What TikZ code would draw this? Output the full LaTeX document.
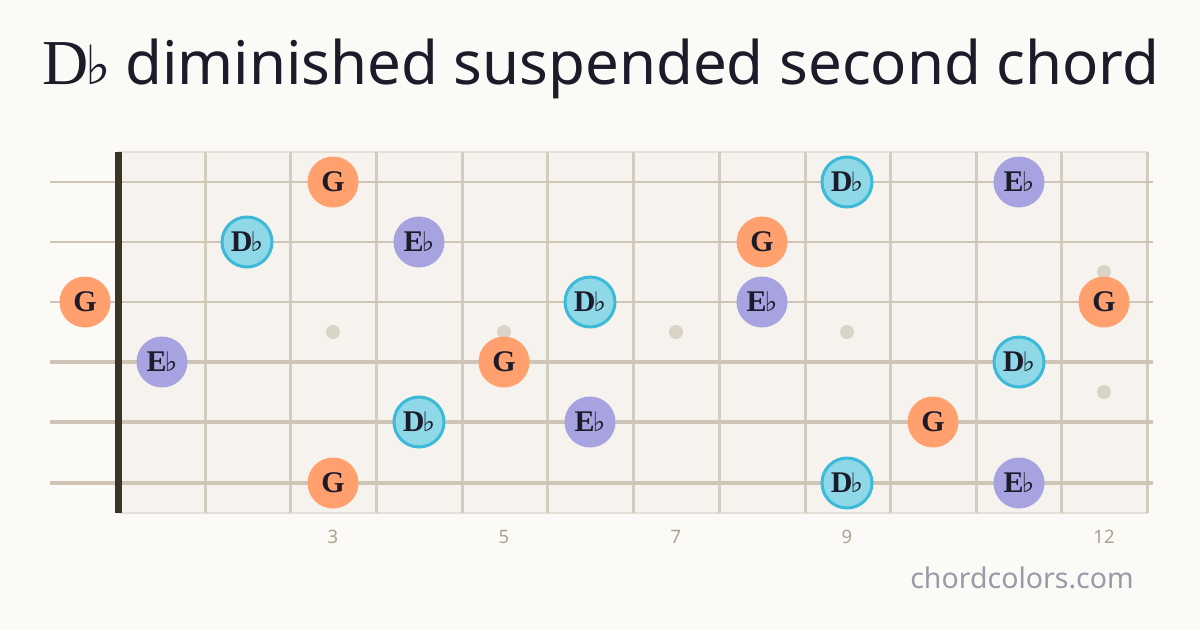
\documentclass[tikz,border=0pt]{standalone}
\usepackage{fontspec}
\usepackage{tikz}
\usetikzlibrary{shapes}
\setmainfont{Liberation Serif}
\newfontfamily\titlefont{Noto Sans}
\newfontfamily\flatfont{DejaVu Serif}
\definecolor{pagebg}{HTML}{FBFAF6}
\definecolor{boardbg}{HTML}{F6F3EE}
\definecolor{fretline}{HTML}{D3CCBF}
\definecolor{stringline}{HTML}{CEC5B7}
\definecolor{nutbar}{HTML}{3B3424}
\definecolor{inlay}{HTML}{DAD4C7}
\definecolor{dbfill}{HTML}{8ED8E8}
\definecolor{dbborder}{HTML}{3DBAD8}
\definecolor{ebfill}{HTML}{A7A3E0}
\definecolor{gfill}{HTML}{FFA06E}
\definecolor{notetext}{HTML}{1B1B29}
\definecolor{fretnum}{HTML}{A9A48F}
\definecolor{sitename}{HTML}{9A9AA8}
\tikzstyle{notedb}=[circle, draw=dbborder, line width=3pt, fill=dbfill, minimum size=50pt, inner sep=0pt, text=notetext, font=\bfseries\fontsize{30}{30}\selectfont]
\tikzstyle{noteeb}=[circle, fill=ebfill, minimum size=51pt, inner sep=0pt, text=notetext, font=\bfseries\fontsize{30}{30}\selectfont]
\tikzstyle{noteg}=[circle, fill=gfill, minimum size=51pt, inner sep=0pt, text=notetext, font=\bfseries\fontsize{30}{30}\selectfont]
\tikzstyle{fretno}=[text=fretnum, font=\titlefont\fontsize{18.5}{18.5}\selectfont]
\tikzstyle{dot}=[circle, fill=inlay, minimum size=14pt, inner sep=0pt]
\newcommand{\flatsign}{{\flatfont\mdseries\fontsize{27}{27}\selectfont ♭}}
\newcommand{\dbnote}[2]{
	\node[notedb] (#1) at (#2) {D\kern-2pt\flatsign};}
\newcommand{\ebnote}[2]{
	\node[noteeb] (#1) at (#2) {E\kern-2pt\flatsign};}
\newcommand{\gnote}[2]{
	\node[noteg] (#1) at (#2) {G};}
\newcommand{\inlaydot}[2]{
	\node[dot] (#1) at (#2) {};}

\begin{document}
\begin{tikzpicture}[x=1pt,y=-1pt]
	\fill[pagebg] (0,0) rectangle (1200,630);
	\useasboundingbox (0,0) rectangle (1200,630);
	
	\node[text=notetext, font=\titlefont\fontsize{60}{60}\selectfont] (title) at (601,69) {{\rmfamily\fontsize{64}{64}\selectfont D\kern-3pt}{\flatfont\fontsize{54}{54}\selectfont ♭}\hspace{14pt}diminished suspended second chord};
	
	\fill[boardbg] (118,152) rectangle (1148,513);
	\draw[fretline!60, line width=1.5pt] (118,152) -- (1148,152);
	\draw[fretline!60, line width=1.5pt] (118,513) -- (1148,513);
	
	\draw[fretline, line width=3pt] (205,152) -- (205,513);
	\draw[fretline, line width=3pt] (290,152) -- (290,513);
	\draw[fretline, line width=3pt] (376,152) -- (376,513);
	\draw[fretline, line width=3pt] (462,152) -- (462,513);
	\draw[fretline, line width=3pt] (547,152) -- (547,513);
	\draw[fretline, line width=3pt] (633,152) -- (633,513);
	\draw[fretline, line width=3pt] (719,152) -- (719,513);
	\draw[fretline, line width=3pt] (805,152) -- (805,513);
	\draw[fretline, line width=3pt] (890,152) -- (890,513);
	\draw[fretline, line width=3pt] (976,152) -- (976,513);
	\draw[fretline, line width=3pt] (1061,152) -- (1061,513);
	\draw[fretline, line width=3pt] (1147,152) -- (1147,513);
	
	\inlaydot{d3}{333,332}
	\inlaydot{d5}{504,332}
	\inlaydot{d7}{676,332}
	\inlaydot{d9}{847,332}
	\inlaydot{d12a}{1104,272}
	\inlaydot{d12b}{1104,392}
	
	\draw[stringline, line width=2pt] (50,182) -- (1153,182);
	\draw[stringline, line width=2.4pt] (50,242) -- (1153,242);
	\draw[stringline, line width=2.8pt] (50,302) -- (1153,302);
	\draw[stringline, line width=3.2pt] (50,362) -- (1153,362);
	\draw[stringline, line width=3.6pt] (50,422) -- (1153,422);
	\draw[stringline, line width=4pt] (50,483) -- (1153,483);
	
	\fill[nutbar] (115,152) rectangle (122,513);
	
	\gnote{g1a}{333,182}
	\dbnote{db1}{847,182}
	\ebnote{eb1}{1019,182}
	
	\dbnote{db2}{247,242}
	\ebnote{eb2}{419,242}
	\gnote{g2}{762,242}
	
	\gnote{g3a}{85,302}
	\dbnote{db3}{590,302}
	\ebnote{eb3}{762,302}
	\gnote{g3b}{1104,302}
	
	\ebnote{eb4}{162,362}
	\gnote{g4}{504,362}
	\dbnote{db4}{1019,362}
	
	\dbnote{db5}{419,422}
	\ebnote{eb5}{590,422}
	\gnote{g5}{933,422}
	
	\gnote{g6}{333,483}
	\dbnote{db6}{847,483}
	\ebnote{eb6}{1019,483}
	
	\node[fretno] (n3) at (333,537) {3};
	\node[fretno] (n5) at (504,537) {5};
	\node[fretno] (n7) at (676,537) {7};
	\node[fretno] (n9) at (847,537) {9};
	\node[fretno] (n12) at (1104,537) {12};
	
	\node[text=sitename, font=\titlefont\fontsize{28.5}{28.5}\selectfont] (site) at (1022,578) {chordcolors.com};
\end{tikzpicture}
\end{document}
